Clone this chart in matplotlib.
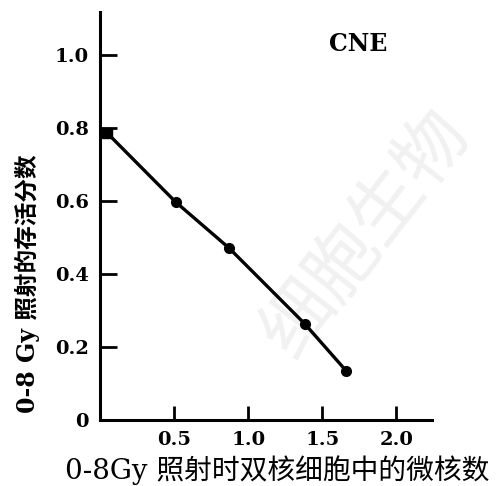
import matplotlib
matplotlib.use("Agg")
import matplotlib.pyplot as plt

# micronuclei per binucleate cell (0-8 Gy) vs. surviving fraction, CNE cells
micronuclei = [0.05, 0.51, 0.87, 1.38, 1.66]
survival = [0.785, 0.597, 0.471, 0.264, 0.135]

y_ticks = [0, 0.2, 0.4, 0.6, 0.8, 1.0]
y_labels = ["0", "0.2", "0.4", "0.6", "0.8", "1.0"]
x_ticks = [0.5, 1.0, 1.5, 2.0]
x_labels = ["0.5", "1.0", "1.5", "2.0"]

cell_line = "CNE"
x_title = "0-8Gy 照射时双核细胞中的微核数"
y_title = "0-8 Gy 照射的存活分数"

serif_cjk = ["DejaVu Serif", "Noto Sans CJK SC"]

fig = plt.figure(figsize=(4.96, 4.86), dpi=100)
ax = fig.add_axes([100 / 496, 1 - 420 / 486, 332 / 496, 408 / 486])

# faint diagonal watermark behind the plot
fig.text(0.74, 0.52, "细胞生物", rotation=52, fontsize=52, color="#f1f1f1",
         family="Noto Sans CJK SC", ha="center", va="center", zorder=-1)
ax.patch.set_alpha(0)

ax.plot(micronuclei, survival, "-", color="black", lw=2.4, zorder=3)
ax.plot(micronuclei[1:], survival[1:], "o", color="black", ms=7, zorder=4)
ax.plot(micronuclei[:1], survival[:1], "s", color="black", ms=7.5, zorder=4)

ax.set_xlim(0, 2.24)
ax.set_ylim(0, 1.117)

ax.spines["top"].set_visible(False)
ax.spines["right"].set_visible(False)
for side in ("left", "bottom"):
    ax.spines[side].set_linewidth(2.2)

ax.set_yticks(y_ticks)
ax.set_yticklabels(y_labels)
ax.set_xticks(x_ticks)
ax.set_xticklabels(x_labels)
ax.tick_params(axis="y", direction="in", length=12, width=2, pad=8)
ax.tick_params(axis="x", direction="in", length=10, width=2, pad=8)
for lab in ax.get_xticklabels() + ax.get_yticklabels():
    lab.set_family("DejaVu Serif")
    lab.set_fontweight("bold")
    lab.set_fontsize(14)

ax.text(1.74, 1.03, cell_line, family="DejaVu Serif", fontweight="bold",
        fontsize=17, ha="center", va="center")

fig.text(277 / 496, 1 - 470 / 486, x_title, family=serif_cjk,
         fontsize=20, ha="center", va="center")
fig.text(27 / 496, 1 - 284 / 486, y_title, family=serif_cjk,
         fontsize=17, fontweight="bold", rotation=90, ha="center", va="center")

fig.savefig("out.png", dpi=100)
